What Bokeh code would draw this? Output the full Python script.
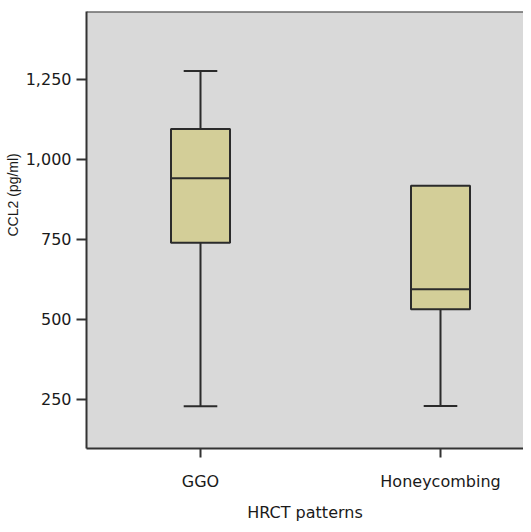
from bokeh.plotting import figure
from bokeh.models import Range1d, FixedTicker, NumeralTickFormatter, Span, ColumnDataSource, Title
from bokeh.embed import file_html
from bokeh.resources import INLINE

# ---- data ----
categories = ["GGO", "Honeycombing"]
whisker_low = [228, 229]
q1 = [739, 531]
median = [941, 594]
q3 = [1095, 917]
whisker_high = [1276, 917]
y_ticks = [250, 500, 750, 1000, 1250]

xs = [i + 1 for i in range(len(categories))]

W, H = 523, 524
LEFT, TOP, BOTTOM = 86, 11, 76
X0, X1 = 0.525, 0.525 + (W - LEFT) / 240.0
Y0, Y1 = 96, 1462

p = figure(width=W, height=H, output_backend="svg", toolbar_location=None,
           x_range=Range1d(X0, X1), y_range=Range1d(Y0, Y1),
           min_border_left=LEFT, min_border_right=0, min_border_top=TOP,
           min_border_bottom=BOTTOM)
p.background_fill_color = "#d9d9d9"
p.border_fill_color = "white"
p.outline_line_color = None
p.grid.visible = False

box_w = 0.246
cap_w = 0.14
line_c = "#2b2b2b"

src = ColumnDataSource(dict(x=xs, low=whisker_low, q1=q1, med=median, q3=q3, high=whisker_high,
                            xl=[x - box_w / 2 for x in xs], xr=[x + box_w / 2 for x in xs],
                            cl=[x - cap_w / 2 for x in xs], cr=[x + cap_w / 2 for x in xs]))

# whiskers
p.segment(x0="x", y0="low", x1="x", y1="q1", source=src, line_color=line_c, line_width=2)
p.segment(x0="x", y0="q3", x1="x", y1="high", source=src, line_color=line_c, line_width=2)
p.segment(x0="cl", y0="low", x1="cr", y1="low", source=src, line_color=line_c, line_width=2)
hi_idx = [i for i in range(len(xs)) if whisker_high[i] > q3[i]]
p.segment(x0=[xs[i] - cap_w / 2 for i in hi_idx], y0=[whisker_high[i] for i in hi_idx],
          x1=[xs[i] + cap_w / 2 for i in hi_idx], y1=[whisker_high[i] for i in hi_idx],
          line_color=line_c, line_width=2)
# boxes
p.vbar(x="x", width=box_w, bottom="q1", top="q3", source=src,
       fill_color="#d3ce98", line_color=line_c, line_width=2)
p.segment(x0="xl", y0="med", x1="xr", y1="med", source=src, line_color=line_c, line_width=2)

# top border line
p.add_layout(Span(location=Y1, dimension="width", line_color="#333333", line_width=2))

# axes
for ax in (p.xaxis, p.yaxis):
    ax.axis_line_color = "#333333"
    ax.axis_line_width = 2
    ax.major_tick_line_color = "#333333"
    ax.major_tick_line_width = 2
    ax.minor_tick_line_color = None
    ax.major_tick_in = 0
    ax.major_label_text_font = "DejaVu Sans"
    ax.major_label_text_font_size = "16px"
    ax.major_label_text_color = "#1a1a1a"

p.yaxis.ticker = FixedTicker(ticks=y_ticks)
p.yaxis.formatter = NumeralTickFormatter(format="0,0")
p.yaxis.major_tick_out = 10
p.yaxis.major_label_standoff = 5

p.xaxis.ticker = FixedTicker(ticks=xs)
p.xaxis.major_label_overrides = {x: c for x, c in zip(xs, categories)}
p.xaxis.major_tick_out = 9
p.xaxis.major_label_standoff = 14
p.xaxis.axis_label = "HRCT patterns"
p.xaxis.axis_label_text_font = "DejaVu Sans"
p.xaxis.axis_label_text_font_size = "16px"
p.xaxis.axis_label_text_font_style = "normal"
p.xaxis.axis_label_text_color = "#1a1a1a"
p.xaxis.axis_label_standoff = 9

p.add_layout(Title(text="CCL2 (pg/ml)", align="left", offset=212, standoff=4,
                   text_font="Liberation Sans", text_font_size="14px",
                   text_font_style="normal", text_color="#1a1a1a"), "left")

open("out.html", "w").write(file_html(p, INLINE))
